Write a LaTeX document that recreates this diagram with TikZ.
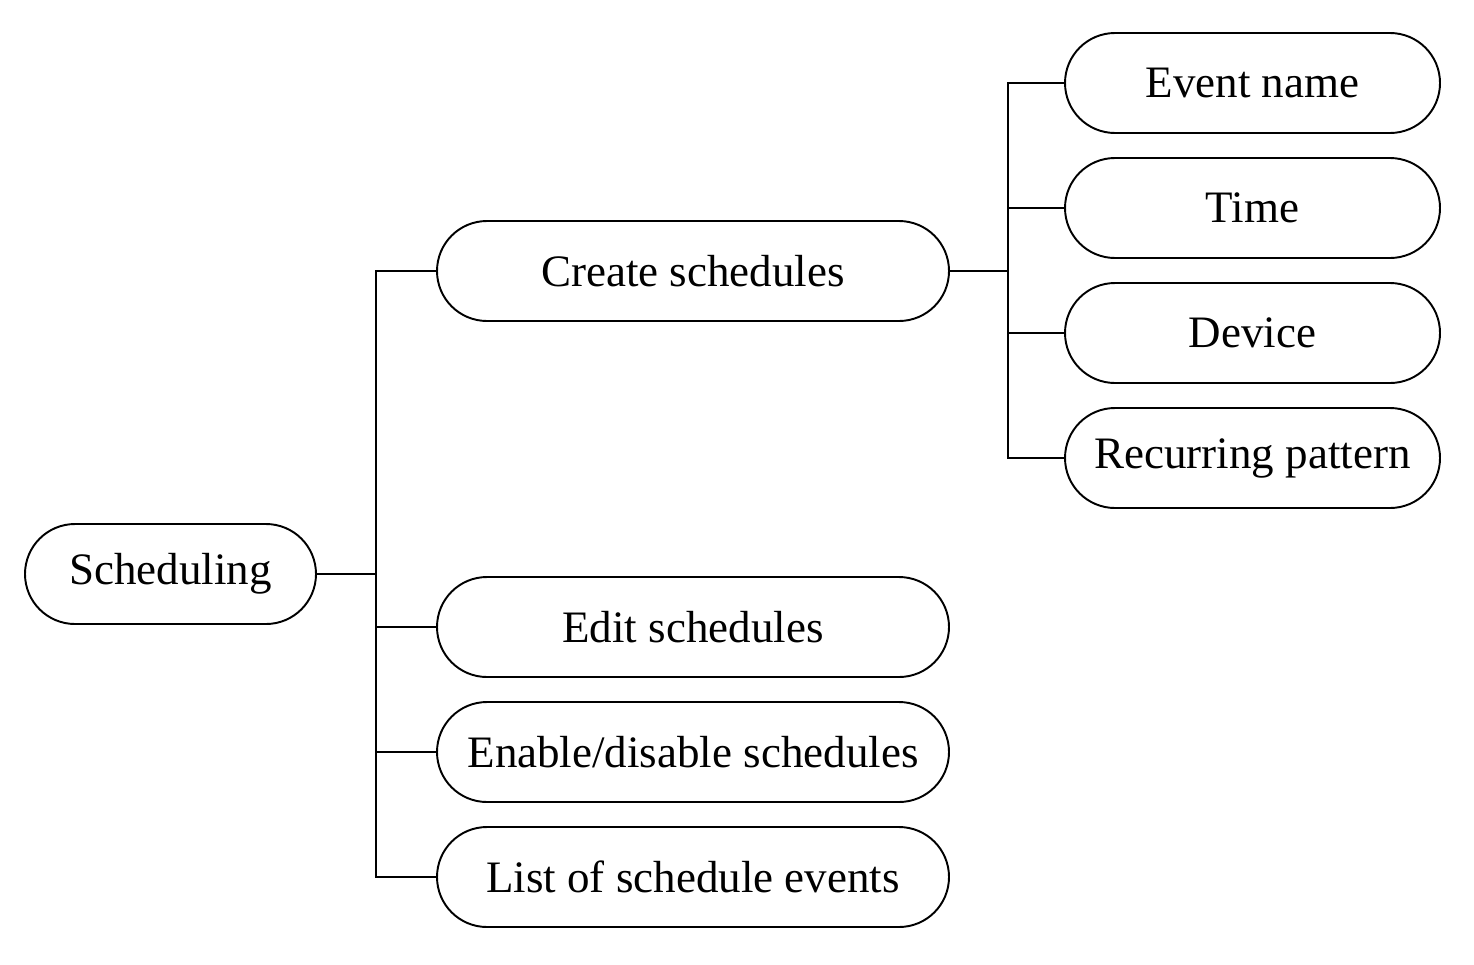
\documentclass[tikz,border=0pt]{standalone}
\usepackage{fontspec}
\setmainfont{Liberation Serif}
\usepackage{tikz}
\usetikzlibrary{shapes,arrows,positioning,calc}

\begin{document}
\begin{tikzpicture}[
    pill/.style={draw, line width=1.1pt, rounded corners=1cm, minimum height=2cm,
                 inner sep=0pt, font=\fontsize{25.6}{30}\selectfont},
    link/.style={line width=1.1pt}
]
\useasboundingbox (0,0) rectangle (29.48,-19.28);

% Root node
\node[pill, minimum width=5.82cm] (sched) at (3.41,-11.48) {Scheduling};

% Second level
\node[pill, minimum width=10.24cm] (create) at (13.86,-5.42) {Create schedules};
\node[pill, minimum width=10.24cm] (edit) at (13.86,-12.54) {Edit schedules};
\node[pill, minimum width=10.24cm] (enable) at (13.86,-15.04) {Enable/disable schedules};
\node[pill, minimum width=10.24cm] (list) at (13.86,-17.54) {List of schedule events};

% Third level
\node[pill, minimum width=7.5cm] (evname) at (25.05,-1.66) {Event name};
\node[pill, minimum width=7.5cm] (time) at (25.05,-4.16) {Time};
\node[pill, minimum width=7.5cm] (device) at (25.05,-6.66) {Device};
\node[pill, minimum width=7.5cm] (recur) at (25.05,-9.16) {Recurring pattern};

% Connectors
\coordinate (trunkA) at (7.52,-11.48);
\draw[link] (sched.east) -- (trunkA);
\foreach \n in {create,edit,enable,list}
    \draw[link] (trunkA) |- (\n.west);

\coordinate (trunkB) at (20.16,-5.42);
\draw[link] (create.east) -- (trunkB);
\foreach \n in {evname,time,device,recur}
    \draw[link] (trunkB) |- (\n.west);
\end{tikzpicture}
\end{document}
